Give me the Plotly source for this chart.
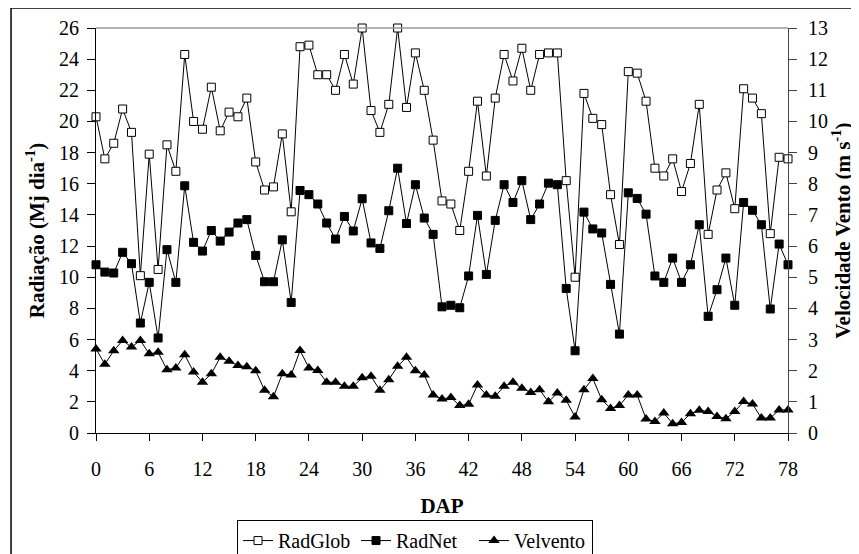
import plotly.graph_objects as go

dap = list(range(79))

rad_glob = [20.3, 17.6, 18.6, 20.8, 19.3, 10.1, 17.9, 10.5, 18.5, 16.8,
            24.3, 20.0, 19.5, 22.2, 19.4, 20.6, 20.3, 21.5, 17.4, 15.6,
            15.8, 19.2, 14.2, 24.8, 24.9, 23.0, 23.0, 22.0, 24.3, 22.4,
            26.0, 20.7, 19.3, 21.1, 26.0, 20.9, 24.4, 22.0, 18.8, 14.9,
            14.7, 13.0, 16.8, 21.3, 16.5, 21.5, 24.3, 22.6, 24.7, 22.0,
            24.3, 24.4, 24.4, 16.2, 10.0, 21.8, 20.2, 19.8, 15.3, 12.1,
            23.2, 23.1, 21.3, 17.0, 16.5, 17.6, 15.5, 17.3, 21.1, 12.75,
            15.6, 16.7, 14.4, 22.1, 21.5, 20.5, 12.8, 17.7, 17.6]

rad_net = [10.8, 10.33, 10.27, 11.6, 10.87, 7.06, 9.67, 6.1, 11.77, 9.67,
           15.87, 12.24, 11.68, 13.0, 12.32, 12.9, 13.48, 13.7, 11.4, 9.71,
           9.71, 12.4, 8.38, 15.57, 15.3, 14.7, 13.48, 12.45, 13.9, 12.97,
           15.04, 12.2, 11.85, 14.27, 17.0, 13.45, 15.94, 13.8, 12.75, 8.1,
           8.2, 8.04, 10.08, 13.97, 10.18, 13.65, 15.94, 14.8, 16.2, 13.7,
           14.7, 16.04, 15.94, 9.28, 5.28, 14.18, 13.1, 12.84, 9.54, 6.35,
           15.42, 15.06, 14.05, 10.08, 9.67, 11.23, 9.67, 10.8, 13.37, 7.49,
           9.2, 11.23, 8.2, 14.8, 14.3, 13.37, 7.96, 12.13, 10.8]

vel_vento = [2.70, 2.21, 2.64, 2.97, 2.76, 2.97, 2.54, 2.59, 2.03, 2.09,
             2.51, 1.96, 1.63, 1.90, 2.43, 2.30, 2.17, 2.13, 2.00, 1.37,
             1.16, 1.90, 1.86, 2.65, 2.09, 2.01, 1.63, 1.63, 1.50, 1.50,
             1.77, 1.82, 1.37, 1.71, 2.14, 2.43, 2.00, 1.86, 1.22, 1.09,
             1.14, 0.88, 0.92, 1.54, 1.22, 1.18, 1.50, 1.63, 1.44, 1.30,
             1.39, 1.00, 1.28, 1.05, 0.51, 1.39, 1.75, 1.07, 0.79, 0.88,
             1.22, 1.22, 0.45, 0.37, 0.64, 0.30, 0.34, 0.62, 0.73, 0.69,
             0.53, 0.46, 0.69, 1.01, 0.93, 0.48, 0.48, 0.74, 0.74]

x_ticks = list(range(0, 79, 6))
left_ticks = list(range(0, 27, 2))
right_ticks = list(range(0, 14, 1))

FONT = "Liberation Serif"

fig = go.Figure()
fig.add_trace(go.Scatter(
    x=dap, y=rad_glob, name="RadGlob", mode="lines+markers",
    line=dict(color="black", width=1),
    marker=dict(symbol="square", size=8, color="white", line=dict(color="black", width=1)),
    cliponaxis=False))
fig.add_trace(go.Scatter(
    x=dap, y=rad_net, name="RadNet", mode="lines+markers",
    line=dict(color="black", width=1),
    marker=dict(symbol="square", size=8, color="black", line=dict(color="black", width=1)),
    cliponaxis=False))
fig.add_trace(go.Scatter(
    x=dap, y=vel_vento, name="Velvento", mode="lines+markers", yaxis="y2",
    line=dict(color="black", width=1),
    marker=dict(symbol="triangle-up", size=10, color="black", line=dict(color="black", width=0)),
    cliponaxis=False))

fig.update_layout(
    width=851, height=546,
    margin=dict(l=88, r=71, t=20, b=121, autoexpand=False),
    paper_bgcolor="white", plot_bgcolor="white",
    font=dict(family=FONT, size=20, color="black"),
    showlegend=True,
    legend=dict(orientation="h", x=0.2038, y=-0.215, xanchor="left", yanchor="top",
                bordercolor="black", borderwidth=1, bgcolor="white",
                font=dict(family=FONT, size=20), itemwidth=30,
                entrywidth=73, tracegroupgap=0),
    xaxis=dict(range=[0, 78], tickvals=x_ticks, ticks="outside", ticklen=7,
               tickcolor="black", showline=True, linecolor="black", linewidth=1,
               showgrid=False, zeroline=False, tickfont=dict(family=FONT, size=20),
               automargin=False, ticklabelstandoff=11,
               title=dict(text="<b>DAP</b>", font=dict(family=FONT, size=21), standoff=19)),
    yaxis=dict(range=[0, 26], tickvals=left_ticks, ticks="outside", ticklen=8,
               tickcolor="black", showline=True, linecolor="black", linewidth=1,
               showgrid=False, zeroline=False, tickfont=dict(family=FONT, size=20),
               automargin=False, ticklabelstandoff=4,
               title=dict(text="<b>Radiação (Mj dia<sup>-1</sup>)</b>", font=dict(family=FONT, size=21), standoff=8)),
    yaxis2=dict(range=[0, 13], tickvals=right_ticks, ticks="outside", ticklen=8,
                overlaying="y", side="right",
                tickcolor="#444", showline=True, linecolor="#444", linewidth=1,
                showgrid=False, zeroline=False, tickfont=dict(family=FONT, size=20),
                automargin=False, ticklabelstandoff=7,
                title=dict(text="<b>Velocidade Vento (m s<sup>-1</sup>)</b>", font=dict(family=FONT, size=21), standoff=7)),
    shapes=[
        dict(type="line", xref="paper", yref="paper", x0=0, x1=1, y0=1, y1=1,
             line=dict(color="#999999", width=1.5)),
        dict(type="line", xref="paper", yref="paper", x0=-0.1228, x1=1.2, y0=1.0494, y1=1.0494,
             line=dict(color="black", width=1.5)),
        dict(type="line", xref="paper", yref="paper", x0=-0.1228, x1=-0.1228, y0=-0.4, y1=1.0494,
             line=dict(color="black", width=1.5)),
    ],
)

fig.write_html("out.html")
